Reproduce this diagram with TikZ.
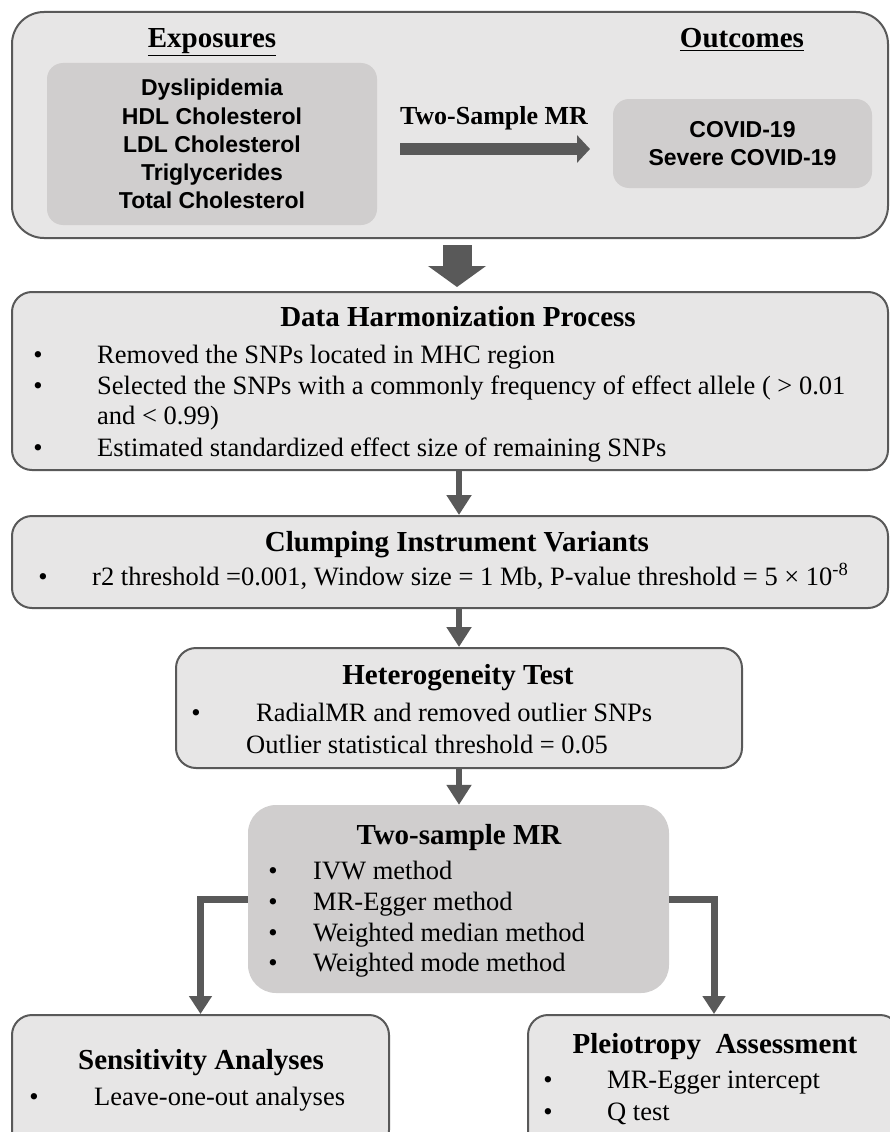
\documentclass[tikz,border=0pt]{standalone}
\usepackage{fontspec}
\setmainfont{Liberation Serif}
\newfontfamily\arialfam{Liberation Sans}
\usetikzlibrary{arrows.meta}
\definecolor{boxfill}{HTML}{E7E6E6}
\definecolor{innerfill}{HTML}{D0CECE}
\definecolor{edgegray}{HTML}{595959}
\tikzset{
  panel/.style={draw=edgegray,line width=2pt,fill=boxfill,rounded corners=20pt,inner sep=0pt},
  inner/.style={fill=innerfill,rounded corners=16pt,inner sep=0pt,align=center,
    font=\arialfam\bfseries\fontsize{23}{28.2}\selectfont},
  head/.style={font=\bfseries\fontsize{29}{33}\selectfont,inner sep=0pt},
  body/.style={font=\fontsize{26.5}{31}\selectfont,inner sep=0pt},
  flow/.style={draw=edgegray,line width=6pt,-{Triangle[length=20pt,width=24pt]}},
  branch/.style={draw=edgegray,line width=7pt,-{Triangle[length=18pt,width=22pt]}},
}
\begin{document}
\begin{tikzpicture}[x=1pt,y=-1pt]
\useasboundingbox (0,0) rectangle (890,1132);
\clip (0,0) rectangle (890,1132);
% exposures and outcomes
\node[panel,rounded corners=32pt,minimum width=876pt,minimum height=226pt] (top) at (450,125) {};
\node[head,anchor=base] (expo) at (212,48) {\underline{Exposures}};
\node[head,anchor=base] (outc) at (742,48) {\underline{Outcomes}};
\node[inner,minimum width=330pt,minimum height=162pt] (exlist) at (212,144)
  {Dyslipidemia\\HDL Cholesterol\\LDL Cholesterol\\Triglycerides\\Total Cholesterol};
\node[inner,minimum width=259pt,minimum height=89pt] (oclist) at (742.5,143.5)
  {COVID-19\\Severe COVID-19};
\node[head,font=\bfseries\fontsize{26}{30}\selectfont,anchor=base] (tsmr) at (494,124) {Two-Sample MR};
\coordinate (a1) at (400,149);
\coordinate (a2) at (590,149);
\draw[edgegray,line width=12pt,-{Triangle[length=13pt,width=27pt]}] (a1)--(a2);
% harmonization
\node[panel,minimum width=876pt,minimum height=178pt] (data) at (450,381) {};
\node[head] (dhp) at (458,317) {Data Harmonization Process};
\node[body,anchor=base] (b1) at (38,363) {•};
\node[body,anchor=base west] (d1) at (97,363) {Removed the SNPs located in MHC region};
\node[body,anchor=base] (b2) at (38,394) {•};
\node[body,anchor=base west] (d2) at (97,394) {Selected the SNPs with a commonly frequency of effect allele ( > 0.01};
\node[body,anchor=base west] (d3) at (97,424) {and < 0.99)};
\node[body,anchor=base] (b4) at (38,456) {•};
\node[body,anchor=base west] (d4) at (97,456) {Estimated standardized effect size of remaining SNPs};
% clumping
\node[panel,minimum width=876pt,minimum height=92pt] (clump) at (450,562) {};
\node[head] (civ) at (457,545) {Clumping Instrument Variants};
\node[body,anchor=base] (b5) at (43,585) {•};
\node[body,anchor=base west] (c1) at (92,585) {r2 threshold =0.001, Window size = 1 Mb, P-value threshold = 5 × 10\textsuperscript{-8}};
% heterogeneity
\node[panel,minimum width=566pt,minimum height=120pt] (het) at (459,708) {};
\node[head] (htt) at (458,678) {Heterogeneity Test};
\node[body,anchor=base] (b6) at (196,721) {•};
\node[body,anchor=base west] (h1) at (256,721) {RadialMR and removed outlier SNPs};
\node[body,anchor=base west] (h2) at (246,753) {Outlier statistical threshold = 0.05};
% two-sample MR
\node[fill=innerfill,rounded corners=28pt,minimum width=421pt,minimum height=188pt,inner sep=0pt] (mr) at (458.5,899) {};
\node[head] (mrt) at (459,838) {Two-sample MR};
\node[body,anchor=base] (b7) at (273,879) {•};
\node[body,anchor=base west] (m1) at (313,879) {IVW method};
\node[body,anchor=base] (b8) at (273,910) {•};
\node[body,anchor=base west] (m2) at (313,910) {MR-Egger method};
\node[body,anchor=base] (b9) at (273,941) {•};
\node[body,anchor=base west] (m3) at (313,941) {Weighted median method};
\node[body,anchor=base] (b10) at (273,971) {•};
\node[body,anchor=base west] (m4) at (313,971) {Weighted mode method};
% sensitivity and pleiotropy
\node[panel,minimum width=377pt,minimum height=135pt] (sens) at (200.5,1082.5) {};
\node[head] (sat) at (201,1063) {Sensitivity Analyses};
\node[body,anchor=base] (b11) at (34,1105) {•};
\node[body,anchor=base west] (s1) at (94,1105) {Leave-one-out analyses};
\node[panel,minimum width=372pt,minimum height=135pt] (pleio) at (714,1082.5) {};
\node[head] (pat) at (715,1047) {Pleiotropy\ \ Assessment};
\node[body,anchor=base] (b12) at (548,1088) {•};
\node[body,anchor=base west] (p1) at (607,1088) {MR-Egger intercept};
\node[body,anchor=base] (b13) at (548,1120) {•};
\node[body,anchor=base west] (p2) at (607,1120) {Q test};
% connectors
\draw[edgegray,line width=29pt,-{Triangle[length=21pt,width=57pt]},shorten <=6pt,shorten >=4pt]
  (top.south -| 457,0) -- (data.north -| 457,0);
\draw[flow] (data.south -| het.north) -- (clump.north -| het.north);
\draw[flow] (clump.south -| het.north) -- (het.north);
\draw[flow] (het.south) -- (het.south |- mr.north);
\draw[branch] (mr.west) -| (sens.north);
\draw[branch] (mr.east) -| (pleio.north);
\end{tikzpicture}
\end{document}
